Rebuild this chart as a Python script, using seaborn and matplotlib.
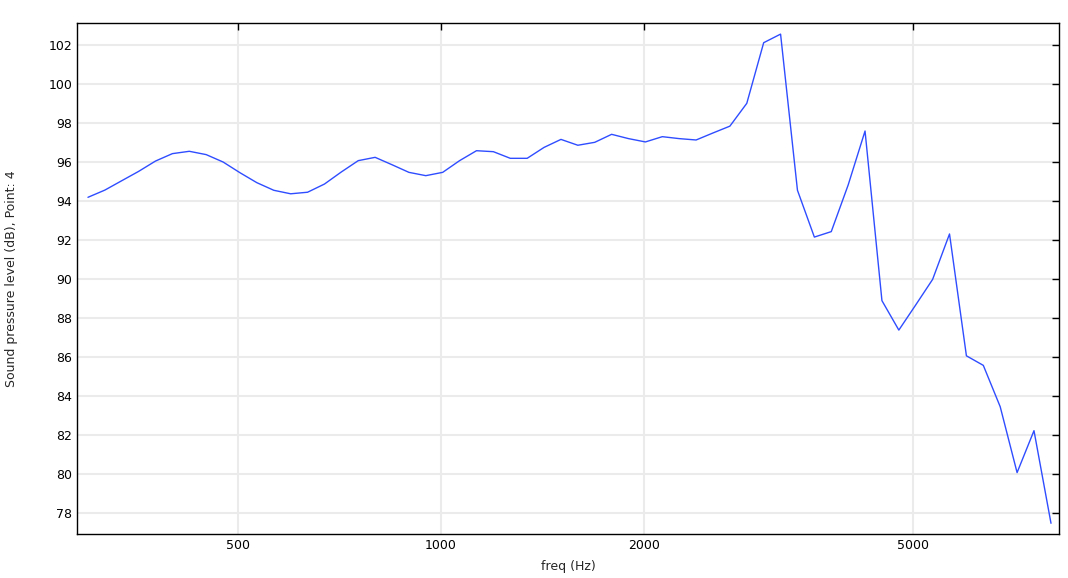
import numpy as np
import matplotlib
matplotlib.use("Agg")
import matplotlib.pyplot as plt
import matplotlib.ticker as mticker
import seaborn as sns

# frequencies (Hz), roughly 1/12-octave steps
freq = [300, 317.8, 336.6, 356.6, 377.7, 400.1, 423.8, 448.9, 475.6, 503.8,
        533.6, 565.3, 598.8, 634.3, 671.9, 711.7, 753.9, 798.6, 846.0, 896.1,
        949.2, 1005.5, 1065.1, 1128.3, 1195.2, 1266.0, 1341.1, 1420.6, 1504.8, 1594.0,
        1688.5, 1788.6, 1894.7, 2007.0, 2126.0, 2252.1, 2385.6, 2527.0, 2676.9, 2835.6,
        3003.7, 3181.8, 3370.4, 3570.3, 3782.0, 4006.2, 4243.7, 4495.3, 4761.9, 5044.2,
        5343.3, 5660.1, 5995.7, 6351.2, 6727.7, 7126.6, 7549.1, 8000]

# sound pressure level (dB) at point 4
spl = [94.19, 94.56, 95.04, 95.52, 96.05, 96.43, 96.55, 96.38, 96.00, 95.45,
       94.94, 94.55, 94.37, 94.45, 94.87, 95.49, 96.07, 96.24, 95.86, 95.47,
       95.30, 95.47, 96.07, 96.58, 96.53, 96.19, 96.19, 96.75, 97.16, 96.86,
       97.01, 97.42, 97.20, 97.03, 97.30, 97.20, 97.13, 97.49, 97.84, 99.01,
       102.12, 102.56, 94.55, 92.15, 92.43, 94.82, 97.59, 88.89, 87.38, 88.67,
       89.98, 92.31, 86.06, 85.57, 83.45, 80.07, 82.22, 77.47]

x_ticks = [500, 1000, 2000, 5000]
y_ticks = list(range(78, 103, 2))

sns.set_style("white")
plt.rcParams["font.family"] = ["DejaVu Sans"]

fig = plt.figure(figsize=(10.68, 5.78), dpi=100)
ax = fig.add_axes([0.0721, 0.0761, 0.9195, 0.8841])

sns.lineplot(x=freq, y=spl, ax=ax, color="#2f4dff", linewidth=1.0, zorder=3)

ax.set_xscale("log")
ax.set_xlim(289, 8222)
ax.set_ylim(76.92, 103.13)
ax.xaxis.set_major_locator(mticker.FixedLocator(x_ticks))
ax.xaxis.set_major_formatter(mticker.FixedFormatter([str(t) for t in x_ticks]))
ax.xaxis.set_minor_locator(mticker.NullLocator())
ax.set_yticks(y_ticks)

ax.grid(True, color="#ebebeb", linewidth=1.5, zorder=0)
for s in ax.spines.values():
    s.set_color("black")
    s.set_linewidth(1.0)

ax.tick_params(axis="both", which="major", direction="in", length=5, width=1,
               top=True, right=True, labelsize=9, colors="black")

ax.set_xlabel("freq (Hz)", fontsize=9, labelpad=6)
ax.set_ylabel("Sound pressure level (dB), Point: 4", fontsize=9, labelpad=22)

fig.savefig("out.png", dpi=100)
